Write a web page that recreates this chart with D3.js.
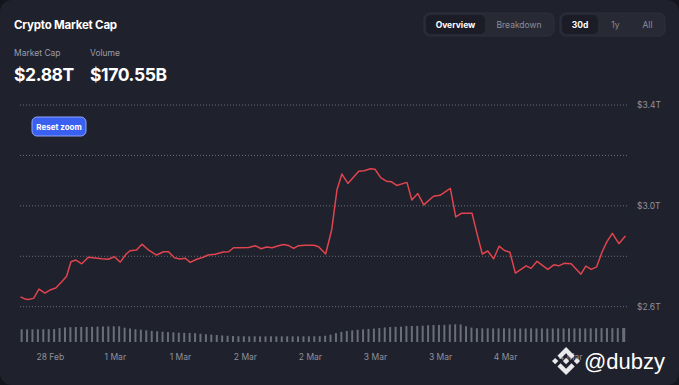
<!DOCTYPE html>
<html>
<head>
<meta charset="utf-8">
<script src="https://cdn.jsdelivr.net/npm/d3@7"></script>
<style>
  html, body { margin: 0; padding: 0; background: #15161d; }
  svg { display: block; font-family: Inter, "Noto Sans", sans-serif; }
</style>
</head>
<body>
<div id="chart"></div>
<script>
// market cap line, in hours after 28 Feb 06:30 and trillions of dollars
const capHours = [0.1, 0.9, 1.5, 2.5, 3.5, 4.6, 5.5, 6.6, 7.7, 8.6, 9.4, 10.3, 11.4, 12.6, 13.9, 15.1, 16.3, 17.4, 18.5, 19.6,
    20.3, 21.5, 22.5, 23.7, 25.2, 26.5, 27.4, 28.5, 29.5, 30.5, 31.4, 32.6, 33.8, 34.7, 36.0, 37.5, 38.5, 39.4, 40.6, 42.2,
    43.4, 44.5, 45.5, 46.5, 47.7, 48.6, 49.5, 50.5, 51.4, 52.6, 54.2, 55.1, 56.4, 57.5, 58.5, 59.4, 60.5, 62.5, 63.5, 64.7,
    65.5, 66.6, 67.6, 68.5, 69.5, 71.4, 72.3, 73.4, 74.5, 76.3, 77.5, 79.4, 80.4, 81.5, 83.4, 84.3, 85.3, 86.3, 87.4, 88.4,
    89.4, 90.4, 91.4, 93.4, 94.3, 95.4, 97.4, 98.5, 99.4, 100.4, 101.7, 103.5, 104.4, 105.4, 106.4, 107.4, 108.3, 109.3, 110.5, 111.7];
const capValues = [2.639, 2.631, 2.629, 2.633, 2.670, 2.654, 2.666, 2.674, 2.699, 2.721, 2.778, 2.785, 2.770, 2.796, 2.793, 2.790, 2.788, 2.798, 2.777, 2.809,
    2.822, 2.825, 2.848, 2.825, 2.805, 2.818, 2.818, 2.794, 2.789, 2.792, 2.776, 2.788, 2.796, 2.805, 2.808, 2.817, 2.818, 2.834, 2.834, 2.835,
    2.842, 2.830, 2.837, 2.834, 2.842, 2.847, 2.843, 2.831, 2.842, 2.844, 2.844, 2.838, 2.809, 2.904, 3.065, 3.126, 3.089, 3.137, 3.139, 3.147,
    3.145, 3.111, 3.098, 3.096, 3.081, 3.093, 3.023, 3.049, 3.004, 3.038, 3.042, 3.069, 2.956, 2.971, 2.971, 2.892, 2.809, 2.821, 2.790, 2.840,
    2.823, 2.816, 2.733, 2.762, 2.752, 2.780, 2.748, 2.766, 2.762, 2.772, 2.770, 2.729, 2.761, 2.748, 2.758, 2.817, 2.858, 2.891, 2.850, 2.880];

// hourly volume bars, billions of dollars
const volumes = [155, 155, 155, 156, 156, 157, 158, 170, 178, 181, 183, 184, 185, 186, 188, 190, 191, 192, 192, 175,
    165, 156, 150, 143, 136, 131, 126, 121, 117, 114, 112, 111, 108, 101, 95, 91, 85, 80, 76, 73,
    71, 70, 69, 70, 69, 69, 70, 69, 69, 70, 69, 69, 70, 70, 70, 71, 76, 90, 108, 124,
    134, 142, 149, 155, 160, 164, 170, 178, 183, 185, 187, 194, 196, 197, 199, 205, 207, 208, 209, 214,
    216, 214, 193, 176, 168, 167, 168, 166, 167, 168, 166, 165, 166, 165, 166, 167, 166, 165, 166, 167,
    166, 167, 166, 167, 166, 167, 168, 169, 170, 169, 170, 171];

const gridValues = [2.6, 2.8, 3.0, 3.2, 3.4];
const yTickValues = [2.6, 3.0, 3.4];

const headline = [
    {label: "Market Cap", value: "$2.88T", x: 14},
    {label: "Volume", value: "$170.55B", x: 90}
];
const viewTabs = ["Overview", "Breakdown"];
const rangeTabs = ["30d", "1y", "All"];

const width = 679, height = 385;
const t0 = new Date(2025, 1, 28, 6, 30);
const hourMs = 3600 * 1000;

let svg = d3.select("#chart").append("svg")
    .attr("width", width)
    .attr("height", height);

// card
svg.append("rect")
    .attr("width", width).attr("height", height)
    .attr("rx", 12)
    .attr("fill", "#1f212c");

// header
svg.append("text")
    .attr("x", 14).attr("y", 29)
    .attr("fill", "#ffffff")
    .attr("font-size", 11.5)
    .attr("font-weight", 700)
    .attr("letter-spacing", -0.2)
    .text("Crypto Market Cap");

let stats = svg.selectAll("g.stat").data(headline).enter().append("g").attr("class", "stat");
stats.append("text")
    .attr("x", d => d.x).attr("y", 56)
    .attr("fill", "#9b9da7")
    .attr("font-size", 8.5)
    .text(d => d.label);
stats.append("text")
    .attr("x", d => d.x).attr("y", 81)
    .attr("fill", "#ffffff")
    .attr("font-size", 17.5)
    .attr("font-weight", 700)
    .attr("letter-spacing", -0.4)
    .text(d => d.value);

// tab groups
function drawTabs(labels, x0, w, activeW, centers) {
    let g = svg.append("g");
    g.append("rect")
        .attr("x", x0).attr("y", 13)
        .attr("width", w).attr("height", 23)
        .attr("rx", 6)
        .attr("fill", "#272935")
        .attr("stroke", "#2e3040");
    g.append("rect")
        .attr("x", x0 + 2).attr("y", 15)
        .attr("width", activeW).attr("height", 19)
        .attr("rx", 5)
        .attr("fill", "#1b1c25");
    g.selectAll("text").data(labels).enter().append("text")
        .attr("x", (d, i) => centers[i]).attr("y", 28)
        .attr("text-anchor", "middle")
        .attr("font-size", 8.5)
        .attr("font-weight", (d, i) => i === 0 ? 700 : 400)
        .attr("fill", (d, i) => i === 0 ? "#ffffff" : "#8c8e99")
        .text(d => d);
}
drawTabs(viewTabs, 424, 130, 59, [455.5, 519]);
drawTabs(rangeTabs, 560, 105, 36, [580, 615.5, 647.5]);

// scales
let x = d3.scaleTime()
    .domain([t0, new Date(+t0 + 112 * hourMs)])
    .range([20, 627]);
let y = d3.scaleLinear().domain([2.6, 3.4]).range([306.7, 105]);
let yVol = d3.scaleLinear().domain([0, 220]).range([342, 324]);

// grid
svg.append("g").selectAll("line").data(gridValues).enter().append("line")
    .attr("x1", 20).attr("x2", 627)
    .attr("y1", d => y(d)).attr("y2", d => y(d))
    .attr("stroke", "#6b6e7a")
    .attr("stroke-width", 1)
    .attr("stroke-dasharray", "1,2");

let yAxis = svg.append("g")
    .attr("transform", "translate(633,0)")
    .call(d3.axisRight(y).tickValues(yTickValues).tickSize(0).tickPadding(4)
        .tickFormat(d => "$" + d.toFixed(1) + "T"));
yAxis.select(".domain").remove();
yAxis.selectAll("text")
    .attr("fill", "#8f919c")
    .attr("font-size", 8.5)
    .attr("font-family", "Inter, sans-serif");

// volume bars
svg.append("g").selectAll("rect").data(volumes).enter().append("rect")
    .attr("x", (d, i) => x(new Date(+t0 + (i + 0.3) * hourMs)) - 1)
    .attr("y", d => yVol(d))
    .attr("width", (d, i) => i === volumes.length - 1 ? 3 : 2)
    .attr("height", d => yVol(0) - yVol(d))
    .attr("fill", "#6a6e7b");

// market cap line
let capData = capHours.map((h, i) => ({t: new Date(+t0 + h * hourMs), v: capValues[i]}));
let line = d3.line().x(d => x(d.t)).y(d => y(d.v));
svg.append("path")
    .datum(capData)
    .attr("d", line)
    .attr("fill", "none")
    .attr("stroke", "#e0444e")
    .attr("stroke-width", 1.5)
    .attr("stroke-linejoin", "round");

// x axis
let xAxis = svg.append("g")
    .attr("transform", "translate(0,351)")
    .call(d3.axisBottom(x).ticks(d3.timeHour.every(12)).tickSize(0).tickPadding(3)
        .tickFormat(d3.timeFormat("%-d %b")));
xAxis.select(".domain").remove();
xAxis.selectAll("text")
    .attr("fill", "#8f919c")
    .attr("font-size", 8.5)
    .attr("font-family", "Inter, sans-serif");

// reset zoom button
let btn = svg.append("g");
btn.append("rect")
    .attr("x", 32).attr("y", 117)
    .attr("width", 54).attr("height", 19)
    .attr("rx", 5)
    .attr("fill", "#3a60f2")
    .attr("stroke", "#8ea4ff")
    .attr("stroke-width", 1);
btn.append("text")
    .attr("x", 59).attr("y", 129.5)
    .attr("text-anchor", "middle")
    .attr("fill", "#ffffff")
    .attr("font-size", 8)
    .attr("font-weight", 700)
    .text("Reset zoom");

// watermark
let wm = svg.append("g");
wm.append("g")
    .attr("transform", "translate(552,347) scale(0.222)")
    .selectAll("path")
    .data([
        "M38.73 53.2l24.59-24.58 24.6 24.6 14.3-14.31L63.32 0 24.42 38.9l14.31 14.3zM0 63.31l14.3-14.31 14.31 14.31-14.31 14.3zM38.73 73.41l24.59 24.59 24.6-24.6 14.31 14.29-38.9 38.91-38.91-38.88-.02-.02 14.33-14.29zM98 63.31l14.3-14.31 14.31 14.3-14.31 14.32z",
        "M77.83 63.3L63.32 48.78 52.59 59.51l-1.24 1.23-2.54 2.54-.02.02.02.03 14.51 14.5 14.51-14.52.01-.01-.01-.01z"
    ])
    .enter().append("path")
    .attr("d", d => d)
    .attr("fill", "#e9e9ec");
wm.append("text")
    .attr("x", 584).attr("y", 369)
    .attr("fill", "#ffffff")
    .attr("font-size", 22)
    .attr("font-family", "'Liberation Sans', Arial, sans-serif")
    .text("@dubzy");
</script>
</body>
</html>
